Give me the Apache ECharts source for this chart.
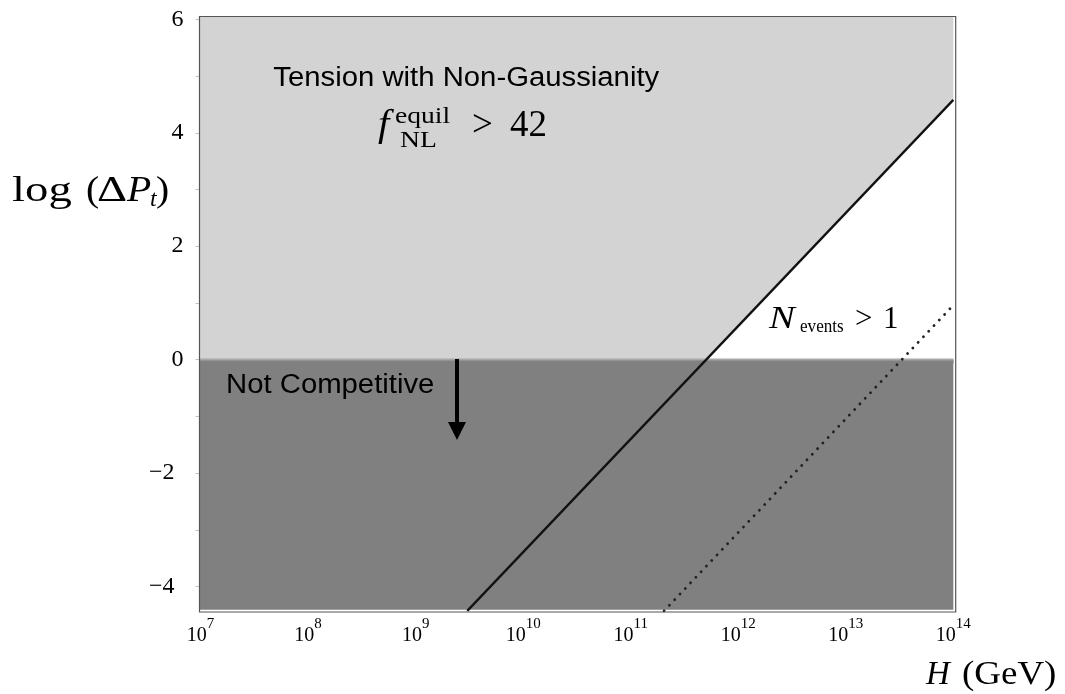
<!DOCTYPE html>
<html><head><meta charset="utf-8">
<script src="https://cdn.jsdelivr.net/npm/echarts@6/dist/echarts.min.js"></script>
<style>html,body{margin:0;padding:0;background:#fff}#c{width:1065px;height:694px}</style>
</head><body><div id="c"></div>
<script>
// x values are log10(H / GeV)
const xTickValues = [7, 8, 9, 10, 11, 12, 13, 14];
const yTickValues = [-4, -2, 0, 2, 4, 6];
const yMinorTickValues = [-3, -1, 1, 3, 5];
const solidLine = [[9.48, -4.43], [14, 4.58]];
const dottedLine = [[11.31, -4.43], [14, 0.96]];
const zeroLine = [[6.99, 0], [14, 0]];
const darkRegion = [[6.99, -4.41], [14, -4.41], [14, 0], [6.99, 0]];
const lightRegion = [[6.99, 0], [11.71, 0], [14, 4.58], [14, 6.05], [6.99, 6.05]];

const SERIF = '"Liberation Serif", "Times New Roman", serif';
const SANS = '"Liberation Sans", Arial, sans-serif';

const xMinor = [];
for (let d = 7; d < 14; d++) for (let k = 1; k <= 9; k++) xMinor.push(d + Math.log10(k));
xMinor.push(14);

function txt(s, x, baseline, size, o = {}) {
  const ratio = o.ff === SANS ? 0.346 : 0.338;
  return {
    type: 'text', x: x, y: baseline - ratio * size, scaleX: o.sx || 1, z: 100,
    style: {
      text: s, fontSize: size, fontFamily: o.ff || SERIF,
      fontStyle: o.it ? 'italic' : 'normal', fill: '#000',
      verticalAlign: 'middle', align: o.align || 'left'
    }
  };
}

function polySeries(name, pts, color) {
  return {
    name: name, type: 'custom', data: [[pts[0][0], pts[0][1]]], clip: true, z: 1,
    renderItem: function (params, api) {
      return { type: 'polygon', shape: { points: pts.map(p => api.coord(p)) }, style: { fill: color } };
    }
  };
}

const chart = echarts.init(document.getElementById('c'));
chart.setOption({
  animation: false,
  backgroundColor: '#fff',
  grid: { left: 199.5, top: 16.5, width: 756.2, height: 595.5, show: false },
  xAxis: {
    type: 'value', min: 6.99, max: 14.022,
    axisLine: { show: false }, splitLine: { show: false },
    axisTick: { show: true, customValues: xMinor, length: 4, lineStyle: { color: '#c4c4c4', width: 1 } },
    axisLabel: {
      customValues: xTickValues, margin: 5,
      fontSize: 20, fontFamily: SERIF, color: '#000',
      formatter: v => '{b|10}{s|' + Math.round(v) + '}',
      rich: {
        b: { fontSize: 20, fontFamily: SERIF, color: '#000', lineHeight: 29, verticalAlign: 'bottom' },
        s: { fontSize: 15, fontFamily: SERIF, color: '#000', lineHeight: 15, verticalAlign: 'top' }
      }
    }
  },
  yAxis: {
    type: 'value', min: -4.45, max: 6.05,
    axisLine: { show: false }, splitLine: { show: false },
    axisTick: { show: true, customValues: yTickValues.concat(yMinorTickValues), length: 4, lineStyle: { color: '#c4c4c4', width: 1 } },
    axisLabel: {
      customValues: yTickValues, margin: 16,
      fontSize: 24, fontFamily: SERIF, color: '#000',
      formatter: v => v < 0 ? '{n|\u2212' + Math.abs(v) + '}' : '{p|' + v + '}',
      rich: {
        p: { fontSize: 24, fontFamily: SERIF, color: '#000' },
        n: { fontSize: 24, fontFamily: SERIF, color: '#000', padding: [0, 9, 0, 0] }
      }
    }
  },
  series: [
    polySeries('Not Competitive', darkRegion, '#808080'),
    polySeries('Tension with Non-Gaussianity', lightRegion, '#d3d3d3'),
    { name: 'zero', type: 'line', data: zeroLine, showSymbol: false, z: 2,
      lineStyle: { color: '#a8a8a8', width: 2 } },
    { name: 'solid', type: 'line', data: solidLine, showSymbol: false, z: 3,
      lineStyle: { color: '#111', width: 2.3 } },
    { name: 'dotted', type: 'line', data: dottedLine, showSymbol: false, z: 3,
      lineStyle: { color: '#222', width: 2.8, type: [0.1, 7.6], cap: 'round' } }
  ],
  graphic: [
    { type: 'rect', z: 100, shape: { x: 199.5, y: 16.5, width: 756.2, height: 595.5 },
      style: { fill: 'none', stroke: '#555', lineWidth: 1.2 } },
    txt('Tension with Non-Gaussianity', 273.3, 87.7, 27, { ff: SANS, sx: 1.085 }),
    txt('Not Competitive', 226, 395, 27, { ff: SANS, sx: 1.085 }),
    { type: 'rect', z: 100, shape: { x: 455, y: 359, width: 4, height: 66 }, style: { fill: '#000' } },
    { type: 'polygon', z: 100, shape: { points: [[448, 422], [466, 422], [457, 440]] }, style: { fill: '#000' } },
    txt('f', 378, 138.3, 37, { it: true, sx: 1.1 }),
    txt('equil', 395, 125, 24, { sx: 1.15 }),
    txt('NL', 400, 149.3, 24, { sx: 1.15 }),
    txt('>', 472, 138.3, 37),
    txt('42', 510, 138.3, 37),
    txt('N', 769, 330, 31, { it: true, sx: 1.25 }),
    txt('events', 800, 333.5, 18, { sx: 0.95 }),
    txt('>', 855, 330, 31),
    txt('1', 883, 330, 31),
    txt('log', 12, 203.3, 36, { sx: 1.3 }),
    txt('(', 86, 203.3, 36, { sx: 1.1 }),
    txt('\u0394', 97, 203.3, 36, { sx: 1.3 }),
    txt('P', 127, 203.3, 36, { it: true, sx: 1.1 }),
    txt('t', 150, 207.5, 24, { it: true }),
    txt(')', 156, 203.3, 36, { sx: 1.1 }),
    txt('H', 926, 686.7, 33, { it: true }),
    txt('(GeV)', 962, 686.7, 33, { sx: 1.12 })
  ]
});
</script></body></html>
